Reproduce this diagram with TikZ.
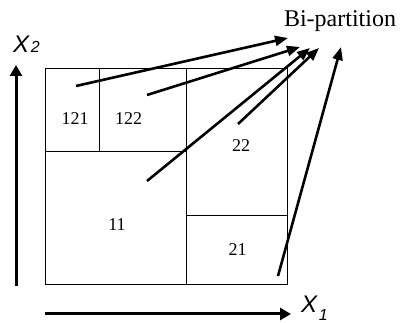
\documentclass[tikz,border=0pt]{standalone}
\usepackage{fontspec}
\setmainfont{Liberation Serif}
\newfontfamily\axfont{Liberation Sans}
\usetikzlibrary{arrows.meta}
\begin{document}
\begin{tikzpicture}[x=1pt,y=-1pt,
  cell/.style={draw=black,line width=1pt},
  lbl/.style={font=\fontsize{18}{18}\selectfont, inner sep=0pt},
  ptr/.style={line width=2.6pt, -{Triangle[length=13pt,width=10pt]}},
  axisarrow/.style={line width=3pt, -{Triangle[length=11pt,width=12pt]}},
  axlbl/.style={inner sep=0pt, anchor=base west, font=\axfont\itshape}]
\useasboundingbox (0,0) rectangle (402,323);
% partition
\draw[cell] (45,69) rectangle (287,285);
\draw[cell] (186,69) -- (186,285);
\draw[cell] (45,152) -- (186,152);
\draw[cell] (99,69) -- (99,152);
\draw[cell] (186,216) -- (287,216);
% labels
\node[lbl] (c121) at (75,119) {121};
\node[lbl] (c122) at (128.5,119) {122};
\node[lbl] (c22) at (241,146) {22};
\node[lbl] (c11) at (117,225) {11};
\node[lbl] (c21) at (237.5,250) {21};
\node[inner sep=0pt, anchor=base, font=\fontsize{24}{24}\selectfont] (bp) at (340,27) {Bi-partition};
% axes
\coordinate (yb) at (16,286);
\coordinate (yt) at (16,65);
\coordinate (xb) at (45,314);
\coordinate (xt) at (291,314);
\draw[axisarrow] (yb) -- (yt);
\draw[axisarrow] (xb) -- (xt);
\node[axlbl] (x2) at (13,53) {{\fontsize{24}{24}\selectfont X}\,{\fontsize{16}{16}\selectfont 2}};
\node[axlbl] (x1) at (301,313) {{\fontsize{24}{24}\selectfont X}\,\raisebox{-7pt}{\fontsize{16}{16}\selectfont 1}};
% pointers
\coordinate (s1) at (76,86);   \coordinate (t1) at (288,38);
\coordinate (s2) at (147,95);  \coordinate (t2) at (300,47);
\coordinate (s3) at (147,181); \coordinate (t3) at (310,48);
\coordinate (s4) at (238,124); \coordinate (t4) at (319,48);
\coordinate (s5) at (278,276); \coordinate (t5) at (341,47);
\draw[ptr] (s1) -- (t1);
\draw[ptr] (s2) -- (t2);
\draw[ptr] (s3) -- (t3);
\draw[ptr] (s4) -- (t4);
\draw[ptr] (s5) -- (t5);
\end{tikzpicture}
\end{document}
